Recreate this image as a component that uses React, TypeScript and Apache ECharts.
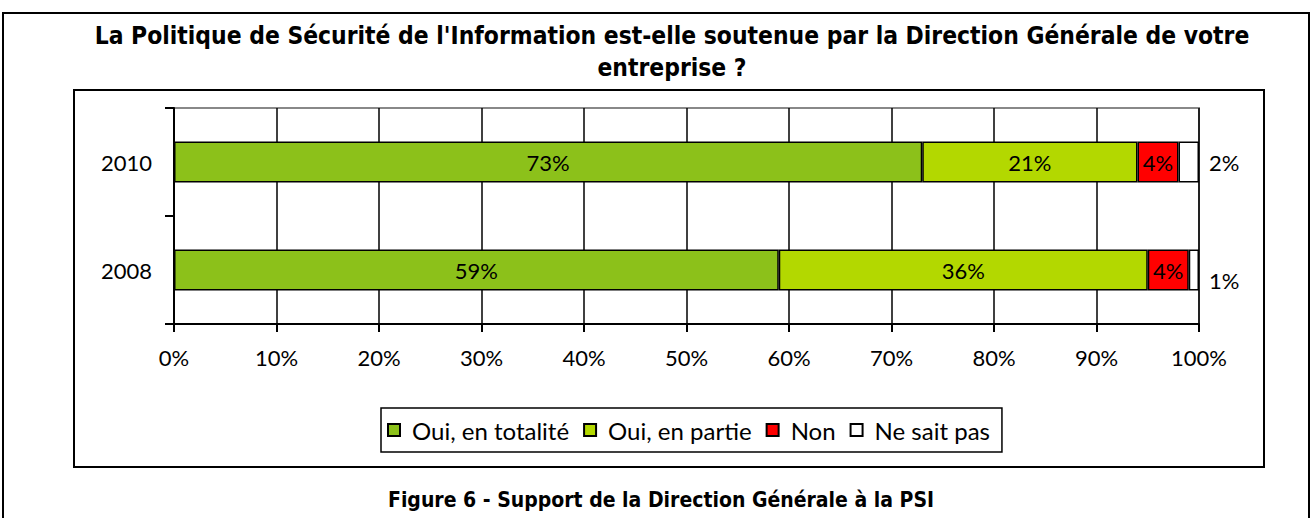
import React, { useEffect, useRef } from "react";
import * as echarts from "echarts";

const categories = ["2008", "2010"];
const seriesNames = ["Oui, en totalité", "Oui, en partie", "Non", "Ne sait pas"];
const ouiTotalite = [59, 73];
const ouiPartie = [36, 21];
const non = [4, 4];
const neSaitPas = [1, 2];
const xTicks = [0, 10, 20, 30, 40, 50, 60, 70, 80, 90, 100];
const colors = ["#8cc11a", "#b3d800", "#ff0000", "#ffffff"];
const titleText = "La Politique de Sécurité de l'Information est-elle soutenue par la Direction Générale de votre\nentreprise ?";
const captionText = "Figure 6 - Support de la Direction Générale à la PSI";

export default function App() {
  const ref = useRef<HTMLDivElement>(null);
  useEffect(() => {
    if (!ref.current) return;
    const chart = echarts.init(ref.current, null, { renderer: "svg" });
    const values = [ouiTotalite, ouiPartie, non, neSaitPas];
    const font = "Lato";
    const fs = 22;
    const series = values.map((vals, i) => ({
      name: seriesNames[i],
      type: "bar",
      stack: "total",
      barWidth: 41,
      data: vals.map((v, j) =>
        i === 3
          ? { value: v, label: { offset: j === 0 ? [0, 10] : [0, 0] } }
          : v
      ),
      itemStyle: { color: colors[i], borderColor: "#000", borderWidth: 1.5 },
      label: {
        show: true,
        position: i === 3 ? "right" : "inside",
        distance: 10,
        formatter: "{c}%",
        color: "#000",
        fontFamily: font,
        fontSize: fs,
      },
    }));
    chart.setOption({
      animation: false,
      backgroundColor: "#fff",
      title: {
        text: titleText,
        left: 667,
        textAlign: "center",
        top: 14,
        textStyle: {
          fontFamily: "DejaVu Sans Condensed, DejaVu Sans",
          fontWeight: "bold",
          fontSize: 24.4,
          lineHeight: 32,
          color: "#000",
        },
      },
      legend: {
        data: seriesNames,
        left: 381,
        top: 408,
        orient: "horizontal",
        itemWidth: 12,
        itemHeight: 12,
        itemGap: 14,
        icon: "rect",
        borderColor: "#000",
        borderWidth: 1.5,
        padding: [10, 12, 10, 6],
        textStyle: {
          fontFamily: font,
          fontSize: 24,
          color: "#000",
          padding: [0, 0, 0, 7],
        },
      },
      grid: {
        left: 174,
        right: 113,
        top: 108,
        bottom: 194,
        show: true,
        borderColor: "#888",
        borderWidth: 2,
      },
      xAxis: {
        type: "value",
        min: 0,
        max: 100,
        interval: 10,
        axisLine: { show: true, lineStyle: { color: "#000", width: 2 } },
        axisTick: { show: true, length: 8, lineStyle: { color: "#000", width: 2 } },
        splitLine: { show: true, lineStyle: { color: "#000", width: 1.5 } },
        axisLabel: {
          formatter: (v: number) => (xTicks.includes(v) ? v + "%" : ""),
          fontFamily: font,
          fontSize: fs,
          color: "#000",
          margin: 22,
        },
      },
      yAxis: {
        type: "category",
        data: categories,
        axisLine: { show: true, lineStyle: { color: "#000", width: 2 } },
        axisTick: { show: true, length: 9, lineStyle: { color: "#000", width: 2 } },
        axisLabel: { fontFamily: font, fontSize: fs, color: "#000", margin: 22 },
      },
      series,
      graphic: [
        {
          type: "rect",
          shape: { x: 3, y: 13, width: 1306, height: 530 },
          style: { fill: "none", stroke: "#000", lineWidth: 2 },
          silent: true,
          z: -1,
        },
        {
          type: "rect",
          shape: { x: 74, y: 90, width: 1190, height: 377 },
          style: { fill: "none", stroke: "#000", lineWidth: 2 },
          silent: true,
          z: -1,
        },
        {
          type: "text",
          x: 661,
          y: 500,
          style: {
            text: captionText,
            fontFamily: "DejaVu Sans Condensed, DejaVu Sans",
            fontWeight: "bold",
            fontSize: 21,
            fill: "#000",
            textAlign: "center",
            textVerticalAlign: "middle",
          },
        },
      ],
    });
    return () => chart.dispose();
  }, []);
  return (
    <div
      ref={ref}
      style={{ position: "fixed", left: 0, top: 0, width: 1312, height: 518 }}
    />
  );
}
